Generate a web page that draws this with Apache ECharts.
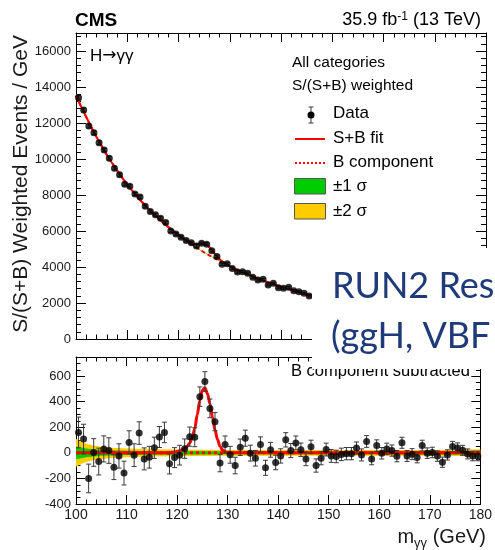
<!DOCTYPE html>
<html>
<head>
<meta charset="utf-8">
<script src="https://cdn.jsdelivr.net/npm/echarts@6/dist/echarts.min.js"></script>
<style>
  html, body { margin: 0; padding: 0; background: #fff; }
  #chart { width: 495px; height: 550px; }
</style>
</head>
<body>
<div id="chart"></div>
<script>
// H -> gamma gamma diphoton mass spectrum, S/(S+B) weighted, 1 GeV bins

// bin centres (GeV)
const massBins = [
  100.5, 101.5, 102.5, 103.5, 104.5, 105.5, 106.5, 107.5, 108.5, 109.5,
  110.5, 111.5, 112.5, 113.5, 114.5, 115.5, 116.5, 117.5, 118.5, 119.5,
  120.5, 121.5, 122.5, 123.5, 124.5, 125.5, 126.5, 127.5, 128.5, 129.5,
  130.5, 131.5, 132.5, 133.5, 134.5, 135.5, 136.5, 137.5, 138.5, 139.5,
  140.5, 141.5, 142.5, 143.5, 144.5, 145.5, 146.5, 147.5, 148.5, 149.5,
  150.5, 151.5, 152.5, 153.5, 154.5, 155.5, 156.5, 157.5, 158.5, 159.5,
  160.5, 161.5, 162.5, 163.5, 164.5, 165.5, 166.5, 167.5, 168.5, 169.5,
  170.5, 171.5, 172.5, 173.5, 174.5, 175.5, 176.5, 177.5, 178.5, 179.5
];

// weighted events / GeV (visible part of the upper panel, 100-146 GeV)
const weightedEvents = [
  13400, 12720, 11830, 11460, 10900, 10500, 10040, 9480, 9130, 8600,
  8480, 8050, 7890, 7370, 7080, 6900, 6710, 6470, 6000, 5830,
  5650, 5470, 5350, 5167, 5315, 5270, 4907, 4590, 4148, 4180,
  3915, 3720, 3741, 3650, 3426, 3278, 3315, 3000, 3093, 2852,
  2815, 2870, 2685, 2630, 2537, 2389
];

// data minus background component
const bkgSubtracted = [
  160, 108, -200, 3, -68, 31, 18, -112, -24, -158,
  82, -18, 155, -47, -34, 40, 124, 160, -86, -37,
  -18, 33, 127, 122, 440, 558, 348, 244, -80, 65,
  -15, -99, 44, 115, -2, -42, 65, -117, 24, -75,
  -24, 102, 18, 78, 24, -47, 47, -99, -42, 26,
  -24, -28, -12, -6, -6, 38, -16, 89, -47, 57,
  -3, 31, 18, -26, 79, -24, -10, -36, 57, -2,
  3, -25, -73, -16, 50, 39, 20, -8, -24, -24
];

// statistical uncertainty per bin
const binErrors = [
  120, 116, 112, 108, 105, 102, 100, 97, 95, 93,
  91, 89, 88, 86, 85, 83, 82, 80, 79, 78,
  77, 76, 75, 74, 76, 77, 73, 71, 68, 67,
  66, 65, 64, 63, 62, 61, 60, 59, 58, 57,
  56, 56, 55, 54, 53, 53, 52, 52, 51, 50,
  50, 49, 49, 48, 48, 47, 47, 46, 46, 45,
  45, 45, 44, 44, 43, 43, 43, 42, 42, 41,
  41, 41, 40, 40, 40, 39, 39, 39, 38, 38
];

// background component of the fit
const bkgMass = [
  100, 101, 102, 103, 104, 105, 106, 107, 108, 109,
  110, 111, 112, 113, 114, 115, 116, 117, 118, 119,
  120, 121, 122, 123, 124, 125, 126, 127, 128, 129,
  130, 131, 132, 133, 134, 135, 136, 137, 138, 139,
  140, 141, 142, 143, 144, 145, 146
];
const bkgFit = [
  13520, 12910, 12330, 11765, 11220, 10720, 10240, 9795, 9370, 8965,
  8580, 8225, 7890, 7570, 7270, 6990, 6720, 6465, 6225, 5995,
  5775, 5565, 5365, 5175, 4990, 4815, 4650, 4490, 4335, 4188,
  4045, 3910, 3780, 3655, 3535, 3420, 3310, 3203, 3100, 3000,
  2905, 2813, 2725, 2638, 2555, 2476, 2400
];

// signal region: signal component and S+B fit
const sigMass = [
  117, 117.5, 118, 118.5, 119, 119.5, 120, 120.5, 121, 121.5,
  122, 122.5, 123, 123.5, 124, 124.5, 125, 125.5, 126, 126.5,
  127, 127.5, 128, 128.5, 129, 129.5, 130, 130.5, 131, 131.5, 132
];
const sigFit = [
  0, 0, 1, 2, 4, 6, 10, 16, 24, 35,
  50, 78, 120, 190, 300, 410, 490, 510, 465, 385,
  280, 180, 105, 50, 22, 9, 4, 2, 1, 0, 0
];
const sbPeakFit = [
  6465, 6345, 6226, 6112, 5999, 5891, 5785, 5686, 5589, 5500,
  5415, 5348, 5295, 5272, 5290, 5312, 5305, 5242, 5115, 4955,
  4770, 4592, 4440, 4312, 4210, 4125, 4049, 3980, 3911, 3845, 3780
];

// background uncertainty bands (half widths)
const bandMass = [100, 101, 102, 103, 104, 105, 107, 110, 115, 120, 125, 130, 140, 150, 160, 170, 175, 180];
const band2Sigma = [108, 88, 72, 61, 53, 47, 40, 34, 29, 26, 24, 23, 22, 22, 22, 23, 25, 28];
const band1Sigma = [50, 42, 35, 30, 26, 23, 20, 17, 14, 13, 12, 11, 11, 11, 11, 12, 13, 14];

// axis tick labels
const xTicks = [100, 110, 120, 130, 140, 150, 160, 170, 180];
const yTicksTop = [0, 2000, 4000, 6000, 8000, 10000, 12000, 14000, 16000];
const yTicksBottom = [-400, -200, 0, 200, 400, 600];

// ---------------------------------------------------------------
const FONT = '"Liberation Sans", Arial, Helvetica, sans-serif';
const RED = '#ff0000';
const GREEN = '#00cc00';
const YELLOW = '#ffcc00';

function bandWidthAt(m, widths) {
  for (let i = 0; i < bandMass.length - 1; i++) {
    if (m <= bandMass[i + 1]) {
      const t = (m - bandMass[i]) / (bandMass[i + 1] - bandMass[i]);
      return widths[i] + t * (widths[i + 1] - widths[i]);
    }
  }
  return widths[widths.length - 1];
}

function polygonSeries(points, color, xi, yi) {
  return {
    type: 'custom', xAxisIndex: xi, yAxisIndex: yi, clip: true, silent: true, z: 1,
    data: [[140, 0]],
    renderItem: function (params, api) {
      return {
        type: 'polygon',
        shape: { points: points.map(p => api.coord(p)) },
        style: { fill: color }
      };
    }
  };
}

function errorBarSeries(data, xi, yi) {
  return {
    type: 'custom', xAxisIndex: xi, yAxisIndex: yi, clip: true, silent: true, z: 4,
    data: data,
    renderItem: function (params, api) {
      const x = api.value(0), y = api.value(1), e = api.value(2);
      const a = api.coord([x, y + e]);
      const b = api.coord([x, y - e]);
      const cap = 2.5;
      const st = { stroke: '#3a3a3a', lineWidth: 1 };
      return {
        type: 'group',
        children: [
          { type: 'line', shape: { x1: a[0], y1: a[1], x2: b[0], y2: b[1] }, style: st },
          { type: 'line', shape: { x1: a[0] - cap, y1: a[1], x2: a[0] + cap, y2: a[1] }, style: st },
          { type: 'line', shape: { x1: b[0] - cap, y1: b[1], x2: b[0] + cap, y2: b[1] }, style: st }
        ]
      };
    }
  };
}

// upper panel points
const upperPoints = weightedEvents.map((v, i) => [massBins[i], v]);
const upperErr = weightedEvents.map((v, i) => [massBins[i], v, binErrors[i]]);
const bkgLine = bkgMass.map((m, i) => [m, bkgFit[i]]);
const sbLine = bkgLine.filter(p => p[0] < sigMass[0])
  .concat(sigMass.map((m, i) => [m, sbPeakFit[i]]))
  .concat(bkgLine.filter(p => p[0] > sigMass[sigMass.length - 1]));

function upperBand(widths) {
  const hi = bkgMass.map((m, i) => [m, bkgFit[i] + bandWidthAt(m, widths)]);
  const lo = bkgMass.map((m, i) => [m, bkgFit[i] - bandWidthAt(m, widths)]).reverse();
  return hi.concat(lo);
}

// lower panel points
const lowerPoints = bkgSubtracted.map((v, i) => [massBins[i], v]);
const lowerErr = bkgSubtracted.map((v, i) => [massBins[i], v, binErrors[i]]);
const sigLine = [[100, 0]].concat(sigMass.map((m, i) => [m, sigFit[i]])).concat([[180, 0]]);

function lowerBand(widths) {
  const hi = bandMass.map((m, i) => [m, widths[i]]);
  const lo = bandMass.map((m, i) => [m, -widths[i]]).reverse();
  return hi.concat(lo);
}

// ---------------------------------------------------------------
const LEFT = 76, RIGHT = 9;
const labelStyle = { fontFamily: FONT, color: '#1a1a1a' };

function xAxisDef(grid, position, showLabels) {
  return {
    type: 'value', gridIndex: grid, position: position,
    min: xTicks[0], max: xTicks[xTicks.length - 1], interval: 10,
    axisLine: { show: true, onZero: false, lineStyle: { color: '#000', width: 1 } },
    axisTick: { show: true, inside: true, length: 9, lineStyle: { color: '#000' } },
    minorTick: { show: true, splitNumber: 5, length: 4.5, lineStyle: { color: '#000' } },
    splitLine: { show: false },
    axisLabel: showLabels ? Object.assign({ show: true, fontSize: 14, margin: 4 }, labelStyle) : { show: false }
  };
}

function yAxisDef(grid, position, min, max, interval, tickLen, showLine, labelOpts) {
  return {
    type: 'value', gridIndex: grid, position: position,
    min: min, max: max, interval: interval,
    axisLine: { show: showLine, onZero: false, lineStyle: { color: '#000', width: 1 } },
    axisTick: { show: true, inside: true, length: tickLen, lineStyle: { color: '#000' } },
    splitLine: { show: false },
    axisLabel: labelOpts || { show: false }
  };
}

const topTicks = new Set(yTicksTop);
const bottomTicks = new Set(yTicksBottom);

const option = {
  animation: false,
  backgroundColor: '#ffffff',
  grid: [
    { left: LEFT, right: RIGHT, top: 33, height: 306 },
    { left: LEFT, right: RIGHT, top: 357, height: 147 }
  ],
  xAxis: [
    xAxisDef(0, 'bottom', false),
    xAxisDef(0, 'top', false),
    xAxisDef(1, 'bottom', true),
    xAxisDef(1, 'top', false)
  ],
  yAxis: [
    yAxisDef(0, 'left', 0, 17000, 2000, 10, true, Object.assign({
      show: true, fontSize: 13, margin: 5,
      formatter: v => topTicks.has(v) ? String(v) : ''
    }, labelStyle)),
    yAxisDef(0, 'left', 0, 17000, 400, 5, false),
    yAxisDef(0, 'right', 0, 17000, 2000, 10, true),
    yAxisDef(0, 'right', 0, 17000, 400, 5, false),
    yAxisDef(1, 'left', -400, 750, 200, 9, true, Object.assign({
      show: true, fontSize: 13, margin: 5,
      formatter: v => bottomTicks.has(v) ? String(v) : ''
    }, labelStyle)),
    yAxisDef(1, 'left', -400, 750, 50, 4.5, false),
    yAxisDef(1, 'right', -400, 750, 200, 9, true),
    yAxisDef(1, 'right', -400, 750, 50, 4.5, false)
  ],
  series: [
    // upper panel
    polygonSeries(upperBand(band2Sigma), YELLOW, 0, 0),
    polygonSeries(upperBand(band1Sigma), GREEN, 0, 0),
    {
      type: 'line', xAxisIndex: 0, yAxisIndex: 0, data: bkgLine, showSymbol: false, silent: true, z: 2,
      lineStyle: { color: RED, width: 2, type: [4, 3] }
    },
    {
      type: 'line', xAxisIndex: 0, yAxisIndex: 0, data: sbLine, showSymbol: false, silent: true, z: 3,
      smooth: 0.2, lineStyle: { color: RED, width: 2 }
    },
    errorBarSeries(upperErr, 0, 0),
    {
      type: 'scatter', xAxisIndex: 0, yAxisIndex: 0, data: upperPoints, symbolSize: 7, silent: true, z: 5,
      itemStyle: { color: '#000' }
    },
    // lower panel
    polygonSeries(lowerBand(band2Sigma), YELLOW, 2, 4),
    polygonSeries(lowerBand(band1Sigma), GREEN, 2, 4),
    {
      type: 'line', xAxisIndex: 2, yAxisIndex: 4, data: [[100, 0], [180, 0]], showSymbol: false, silent: true, z: 2,
      lineStyle: { color: RED, width: 3, type: [3, 3] }
    },
    {
      type: 'line', xAxisIndex: 2, yAxisIndex: 4, data: sigLine, showSymbol: false, silent: true, z: 3,
      smooth: 0.3, smoothMonotone: 'x', lineStyle: { color: RED, width: 3 }
    },
    errorBarSeries(lowerErr, 2, 4),
    {
      type: 'scatter', xAxisIndex: 2, yAxisIndex: 4, data: lowerPoints, symbolSize: 7, silent: true, z: 5,
      itemStyle: { color: '#000' }
    }
  ],
  graphic: [
    // experiment and luminosity
    { type: 'text', x: 75, y: 20.5, z: 10, style: { text: 'CMS', font: 'bold 19px ' + FONT, fill: '#000', align: 'left', verticalAlign: 'middle' } },
    {
      type: 'text', x: 481, y: 20, z: 10,
      style: {
        text: '{a|35.9 fb}{s|-1}{a| (13 TeV)}', align: 'right', verticalAlign: 'middle',
        rich: {
          a: { fontFamily: FONT, fontSize: 18, lineHeight: 18, padding: [4, 0, 0, 0], verticalAlign: 'bottom', fill: '#000' },
          s: { fontFamily: FONT, fontSize: 12, lineHeight: 12, verticalAlign: 'top', fill: '#000' }
        }
      }
    },
    {
      type: 'text', x: 90, y: 56, z: 10,
      style: {
        text: '{a|H}{b|\u2192}{a|\u03B3\u03B3}', verticalAlign: 'middle',
        rich: {
          a: { fontFamily: FONT, fontSize: 17, lineHeight: 18, fill: '#000' },
          b: { fontFamily: '"DejaVu Sans", sans-serif', fontSize: 17, lineHeight: 18, fill: '#000' }
        }
      }
    },

    // legend
    { type: 'text', x: 292, y: 62.5, z: 10, style: { text: 'All categories', font: '15.5px ' + FONT, fill: '#000', verticalAlign: 'middle' } },
    { type: 'text', x: 292, y: 85.5, z: 10, style: { text: 'S/(S+B) weighted', font: '15.5px ' + FONT, fill: '#000', verticalAlign: 'middle' } },
    { type: 'line', z: 10, shape: { x1: 311, y1: 107, x2: 311, y2: 123 }, style: { stroke: '#3a3a3a', lineWidth: 1 } },
    { type: 'line', z: 10, shape: { x1: 308.5, y1: 107, x2: 313.5, y2: 107 }, style: { stroke: '#3a3a3a', lineWidth: 1 } },
    { type: 'line', z: 10, shape: { x1: 308.5, y1: 123, x2: 313.5, y2: 123 }, style: { stroke: '#3a3a3a', lineWidth: 1 } },
    { type: 'circle', z: 11, shape: { cx: 311, cy: 115, r: 3.5 }, style: { fill: '#000' } },
    { type: 'text', x: 333, y: 113, z: 10, style: { text: 'Data', font: '17px ' + FONT, fill: '#000', verticalAlign: 'middle' } },
    { type: 'line', z: 10, shape: { x1: 295, y1: 139, x2: 325, y2: 139 }, style: { stroke: RED, lineWidth: 2 } },
    { type: 'text', x: 333, y: 138, z: 10, style: { text: 'S+B fit', font: '17px ' + FONT, fill: '#000', verticalAlign: 'middle' } },
    { type: 'line', z: 10, shape: { x1: 295, y1: 163, x2: 325, y2: 163 }, style: { stroke: RED, lineWidth: 2, lineDash: [2, 2] } },
    { type: 'text', x: 333, y: 162, z: 10, style: { text: 'B component', font: '17px ' + FONT, fill: '#000', verticalAlign: 'middle' } },
    { type: 'rect', z: 10, shape: { x: 294.5, y: 178.5, width: 31, height: 15.5 }, style: { fill: GREEN, stroke: '#555', lineWidth: 1 } },
    { type: 'text', x: 333, y: 186, z: 10, style: { text: '\u00B11 \u03C3', font: '17px ' + FONT, fill: '#000', verticalAlign: 'middle' } },
    { type: 'rect', z: 10, shape: { x: 294.5, y: 203.5, width: 31, height: 15.5 }, style: { fill: YELLOW, stroke: '#555', lineWidth: 1 } },
    { type: 'text', x: 333, y: 211, z: 10, style: { text: '\u00B12 \u03C3', font: '17px ' + FONT, fill: '#000', verticalAlign: 'middle' } },

    // lower panel caption
    { type: 'text', x: 291, y: 371, z: 10, style: { text: 'B component subtracted', font: '16.5px ' + FONT, fill: '#000', verticalAlign: 'middle' } },

    // axis titles
    {
      type: 'text', x: 21, y: 35, rotation: Math.PI / 2, z: 10,
      style: { text: 'S/(S+B) Weighted Events / GeV', font: '21px ' + FONT, fill: '#1a1a1a', align: 'right', verticalAlign: 'middle' }
    },
    {
      type: 'text', x: 486, y: 540, z: 10,
      style: {
        text: '{a|m}{s|\u03B3\u03B3}{a| (GeV)}', align: 'right', verticalAlign: 'middle',
        rich: {
          a: { fontFamily: FONT, fontSize: 20, lineHeight: 20, padding: [0, 0, 3, 0], verticalAlign: 'bottom', fill: '#1a1a1a' },
          s: { fontFamily: FONT, fontSize: 13, lineHeight: 13, verticalAlign: 'bottom', fill: '#1a1a1a' }
        }
      }
    },

    // slide caption box laid over the plot
    { type: 'rect', z: 50, shape: { x: 312, y: 248, width: 183, height: 121 }, style: { fill: '#ffffff' } },
    { type: 'text', x: 332, y: 286, z: 51, style: { text: 'RUN2 Res', font: '36px Lato, "Open Sans", sans-serif', fill: '#1f3a78', verticalAlign: 'middle' } },
    { type: 'text', x: 331, y: 336, z: 51, style: { text: '(ggH, VBF', font: '36px Lato, "Open Sans", sans-serif', fill: '#1f3a78', verticalAlign: 'middle' } }
  ]
};

const chart = echarts.init(document.getElementById('chart'), null, { renderer: 'canvas' });
chart.setOption(option);
</script>
</body>
</html>
